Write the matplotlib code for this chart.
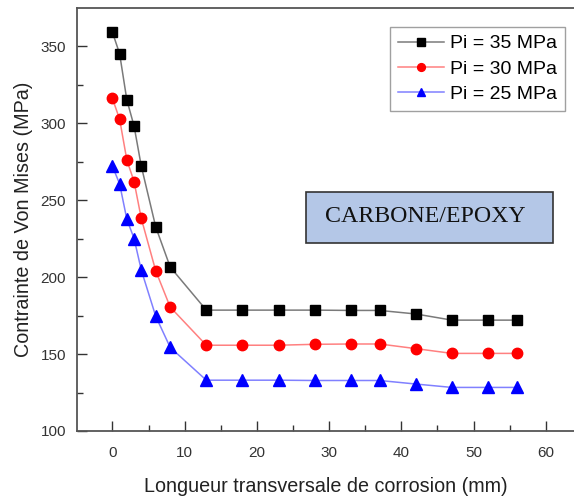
import matplotlib
matplotlib.use("Agg")
from matplotlib import pyplot as plt
from matplotlib.patches import Rectangle
from matplotlib.ticker import MultipleLocator

# Corrosion transverse length (mm)
longueur = [0, 1, 2, 3, 4, 6, 8, 13, 18, 23, 28, 33, 37, 42, 47, 52, 56]

# Von Mises stress (MPa) for each internal pressure
pi_35 = [359, 345, 315, 298, 272, 232.5, 206.5, 178.5, 178.5, 178.5, 178.5, 178.3, 178.3, 176, 172, 172, 172]
pi_30 = [316, 302.5, 276, 262, 238, 204, 180.5, 155.7, 155.7, 155.7, 156.3, 156.5, 156.5, 153.5, 150.4, 150.4, 150.4]
pi_25 = [272, 260.5, 237.5, 225, 204.5, 174.5, 154.3, 133, 133, 133, 132.8, 132.8, 132.8, 130.5, 128.3, 128.3, 128.3]

labels = ["Pi = 35 MPa", "Pi = 30 MPa", "Pi = 25 MPa"]

plt.rcParams['font.family'] = ['Liberation Sans', 'DejaVu Sans']

fig = plt.figure(figsize=(5.74, 4.97), dpi=100)
ax = fig.add_axes([77 / 574, 66 / 497, 497 / 574, 423 / 497])

ax.plot(longueur, pi_35, color="#7a7a7a", lw=1.1, marker="s", ms=7,
        mfc="black", mec="black", label=labels[0])
ax.plot(longueur, pi_30, color="#ff8080", lw=1.1, marker="o", ms=7.5,
        mfc="red", mec="red", label=labels[1])
ax.plot(longueur, pi_25, color="#8080ff", lw=1.1, marker="^", ms=8,
        mfc="blue", mec="blue", label=labels[2])

ax.set_xlim(-4.9, 63.9)
ax.set_ylim(100, 374.7)

ax.xaxis.set_major_locator(MultipleLocator(10))
ax.xaxis.set_minor_locator(MultipleLocator(5))
ax.yaxis.set_major_locator(MultipleLocator(50))
ax.yaxis.set_minor_locator(MultipleLocator(25))
ax.tick_params(which="both", direction="in", colors="#333333", labelcolor="#333333")
ax.tick_params(which="major", length=7, width=1, labelsize=11, pad=8)
ax.tick_params(axis="x", which="major", pad=11)
ax.tick_params(which="minor", length=4, width=1)

for side in ["left", "bottom", "top"]:
    ax.spines[side].set_color("#555555")
    ax.spines[side].set_linewidth(1.3)
ax.spines["right"].set_visible(False)

ax.set_xlabel("Longueur transversale de corrosion (mm)", fontsize=14.2,
              color="#222222", labelpad=12)
ax.set_ylabel("Contrainte de Von Mises (MPa)", fontsize=14.2,
              color="#222222", labelpad=5)

leg = ax.legend(loc="upper right", bbox_to_anchor=(565 / 574, 1 - 27 / 497),
                bbox_transform=fig.transFigure, borderaxespad=0,
                fancybox=False, fontsize=14, handlelength=2.4, markerscale=0.75,
                handletextpad=0.3, borderpad=0.4, labelspacing=0.4)
leg.get_frame().set_edgecolor("#888888")
leg.get_frame().set_linewidth(1)

# material label box
fig.patches.append(Rectangle((306 / 574, 1 - 243 / 497), 247 / 574, 51 / 497,
                             transform=fig.transFigure, fc="#b4c7e7",
                             ec="#333333", lw=1.2, zorder=5))
fig.text(425.5 / 574, 1 - 216 / 497, "CARBONE/EPOXY", ha="center", va="center",
         fontsize=17.2, family="Liberation Serif", color="#111111", zorder=6)

fig.savefig("out.png", dpi=100)
